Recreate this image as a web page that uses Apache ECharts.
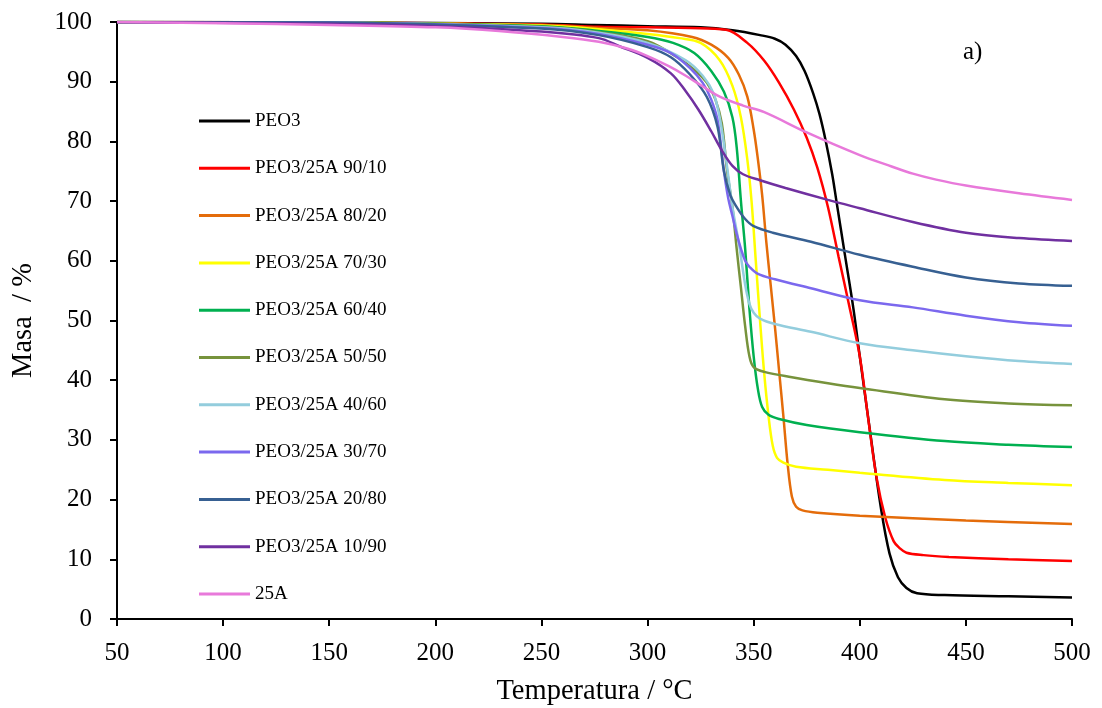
<!DOCTYPE html>
<html>
<head>
<meta charset="utf-8">
<script src="https://cdn.jsdelivr.net/npm/echarts@6/dist/echarts.min.js"></script>
<style>
html,body{margin:0;padding:0;background:#fff;}
#chart{width:1102px;height:708px;}
</style>
</head>
<body>
<div id="chart"></div>
<script>
// Temperature (°C) and mass (%) per sample
const peo3T = [50,150,250,275,300,325,340,353,360,365,370,374,378,381,384,387,389,393,397,400,405,410,414,418,422,427,440,470,500];
const peo3M = [100,99.9,99.7,99.5,99.3,99.1,98.6,97.8,97.2,96.2,94.3,91.8,88.1,84.6,80.0,74.5,70,61,52,44,31,18.5,11,7,5.2,4.3,4.0,3.8,3.6];

const r9010T = [50,150,250,277,300,320,337,347,355,362,369,375,380,385,390,395,400,404,408,412,416,419,422,430,442,470,500];
const r9010M = [100,99.9,99.6,99.2,99.1,99.0,98.7,96.5,93.5,89.8,85.3,80.6,75.6,69.0,60.7,52.5,44,33.5,23.5,17,13,11.8,11.1,10.7,10.4,10.0,9.7];

const r8020T = [50,150,250,277,300,321,330,338,343,347,350,352,354,356,358,360,362,364,366,368,370,373,380,400,450,500];
const r8020M = [100,99.9,99.5,99.0,98.6,97.5,96.2,94,91.2,87.5,82,77,71,63,56,49,41.5,34,26,20.5,18.8,18.2,17.8,17.3,16.5,15.9];

const r7030T = [50,150,250,277,300,315,325,334,340,344,347,349,351,353,355,357,359,361,364,370,385,400,440,470,500];
const r7030M = [100,99.9,99.4,98.8,98.0,97.3,96.5,93.6,89.3,84,77,70,60,50,41,34,29,27,26.2,25.5,25,24.5,23.3,22.8,22.4];

const r6040T = [50,150,250,277,300,312,322,330,336,340,342,344,346,348,350,352,354,357,362,375,400,440,470,500];
const r6040M = [100,99.9,99.3,98.5,97.5,96.5,94.8,91.8,88.3,84,79,70,62,52,44,38.5,35.5,34.2,33.5,32.5,31.3,29.8,29.2,28.8];

const r5050T = [50,150,250,277,300,314,322,328,332,335,337.5,340,342,344,346,348,350,355,368,385,400,440,470,500];
const r5050M = [100,99.9,99.2,98.3,96.8,94.1,92,89.8,87,83,75,69,62,55.5,49,44,42.2,41.4,40.5,39.5,38.7,36.8,36.1,35.8];

const r4060T = [50,150,250,277,300,318,326,331,334,337,340,343,346,348,350,353,360,377,400,425,450,475,500];
const r4060M = [100,99.9,99.1,98.2,96.5,93.6,91,88.1,84,77,69,63,56,52.8,51.3,50.3,49.4,48.1,46.2,45,44,43.2,42.7];

const r3070T = [50,150,250,277,300,311,320,326,330,333,336,338,340,342,344,346,348,352,360,377,400,425,450,475,500];
const r3070M = [100,99.9,99.0,98.0,96.2,94.8,92.3,89.8,87,83.5,75,70.5,67.5,64.5,62,60,59,57.8,56.9,55.4,53.4,52.2,50.8,49.7,49.1];

const r2080T = [50,150,250,277,300,311,320,328,333,336,339,342,346,350,359,377,400,425,450,475,500];
const r2080M = [100,99.9,98.9,97.8,95.8,94.1,91.2,87.4,82.4,75,71,69,67,65.8,64.7,63.2,61,59,57.2,56.2,55.8];

const r1090T = [50,150,200,250,277,287,300,311,318,324,330,335,340,345,353,365,385,400,425,450,475,500];
const r1090M = [100,99.7,99.3,98.4,97.3,95.9,94.0,91.4,88.4,85.3,81.7,78.5,75.9,74.5,73.5,72.2,70.2,68.8,66.5,64.7,63.8,63.3];

const a25T = [50,100,150,200,230,260,277,290,300,310,318,326,334,345,355,375,400,415,425,436,450,475,500];
const a25M = [100,99.8,99.5,99.1,98.5,97.5,96.7,95.6,94.3,92.6,91.0,89.2,87.5,86,84.9,81.5,77.7,75.8,74.6,73.6,72.6,71.3,70.2];

const seriesNames = ['PEO3','PEO3/25A 90/10','PEO3/25A 80/20','PEO3/25A 70/30','PEO3/25A 60/40','PEO3/25A 50/50','PEO3/25A 40/60','PEO3/25A 30/70','PEO3/25A 20/80','PEO3/25A 10/90','25A'];
const seriesT = [peo3T,r9010T,r8020T,r7030T,r6040T,r5050T,r4060T,r3070T,r2080T,r1090T,a25T];
const seriesM = [peo3M,r9010M,r8020M,r7030M,r6040M,r5050M,r4060M,r3070M,r2080M,r1090M,a25M];
const seriesColors = ['#000000','#FF0000','#E46C0A','#FFFF00','#00B050','#77933C','#93CDDD','#7B68EE','#376092','#7030A0','#E879DA'];

const xTicks = [50,100,150,200,250,300,350,400,450,500];
const yTicks = [0,10,20,30,40,50,60,70,80,90,100];

const font = '"Liberation Serif","DejaVu Serif",serif';

const chart = echarts.init(document.getElementById('chart'), null, {renderer:'canvas'});
const series = seriesNames.map((name,i)=>({
  name: name,
  type: 'line',
  data: seriesT[i].map((t,j)=>[t, seriesM[i][j]]),
  showSymbol: false,
  symbol: 'none',
  smooth: 0.35,
  lineStyle: {width: 2.5, color: seriesColors[i]},
  itemStyle: {color: seriesColors[i]},
  animation: false
}));

chart.setOption({
  animation: false,
  backgroundColor: '#ffffff',
  grid: {left: 117, right: 30, top: 22, bottom: 89, containLabel: false, outerBoundsMode: 'none'},
  title: {
    text: 'a)', left: 963, top: 40, padding: 0,
    textStyle: {fontFamily: font, fontSize: 25, fontWeight: 'normal', color: '#000'}
  },
  legend: {
    orient: 'vertical', left: 199, top: 111, padding: 0,
    itemWidth: 51, itemHeight: 3, itemGap: 27.3,
    icon: 'rect',
    data: seriesNames,
    textStyle: {fontFamily: font, fontSize: 19, color: '#000', lineHeight: 20}
  },
  xAxis: {
    type: 'value', min: xTicks[0], max: xTicks[xTicks.length-1], interval: 50,
    name: 'Temperatura / °C', nameLocation: 'middle', nameGap: 58,
    nameTextStyle: {fontFamily: font, fontSize: 28.5, color: '#000'},
    axisLine: {show: true, onZero: false, lineStyle: {color: '#000', width: 2}},
    axisTick: {show: true, inside: false, length: 7, lineStyle: {color: '#000', width: 2}},
    axisLabel: {fontFamily: font, fontSize: 25, color: '#000', margin: 22},
    splitLine: {show: false}
  },
  yAxis: {
    type: 'value', min: yTicks[0], max: yTicks[yTicks.length-1], interval: 10,
    name: 'Masa  / %', nameLocation: 'middle', nameGap: 79, nameRotate: 90,
    nameTextStyle: {fontFamily: font, fontSize: 28.5, color: '#000'},
    axisLine: {show: true, lineStyle: {color: '#000', width: 2}},
    axisTick: {show: true, inside: false, length: 7, lineStyle: {color: '#000', width: 2}},
    axisLabel: {fontFamily: font, fontSize: 25, color: '#000', margin: 25},
    splitLine: {show: false}
  },
  series: series
});
</script>
</body>
</html>
